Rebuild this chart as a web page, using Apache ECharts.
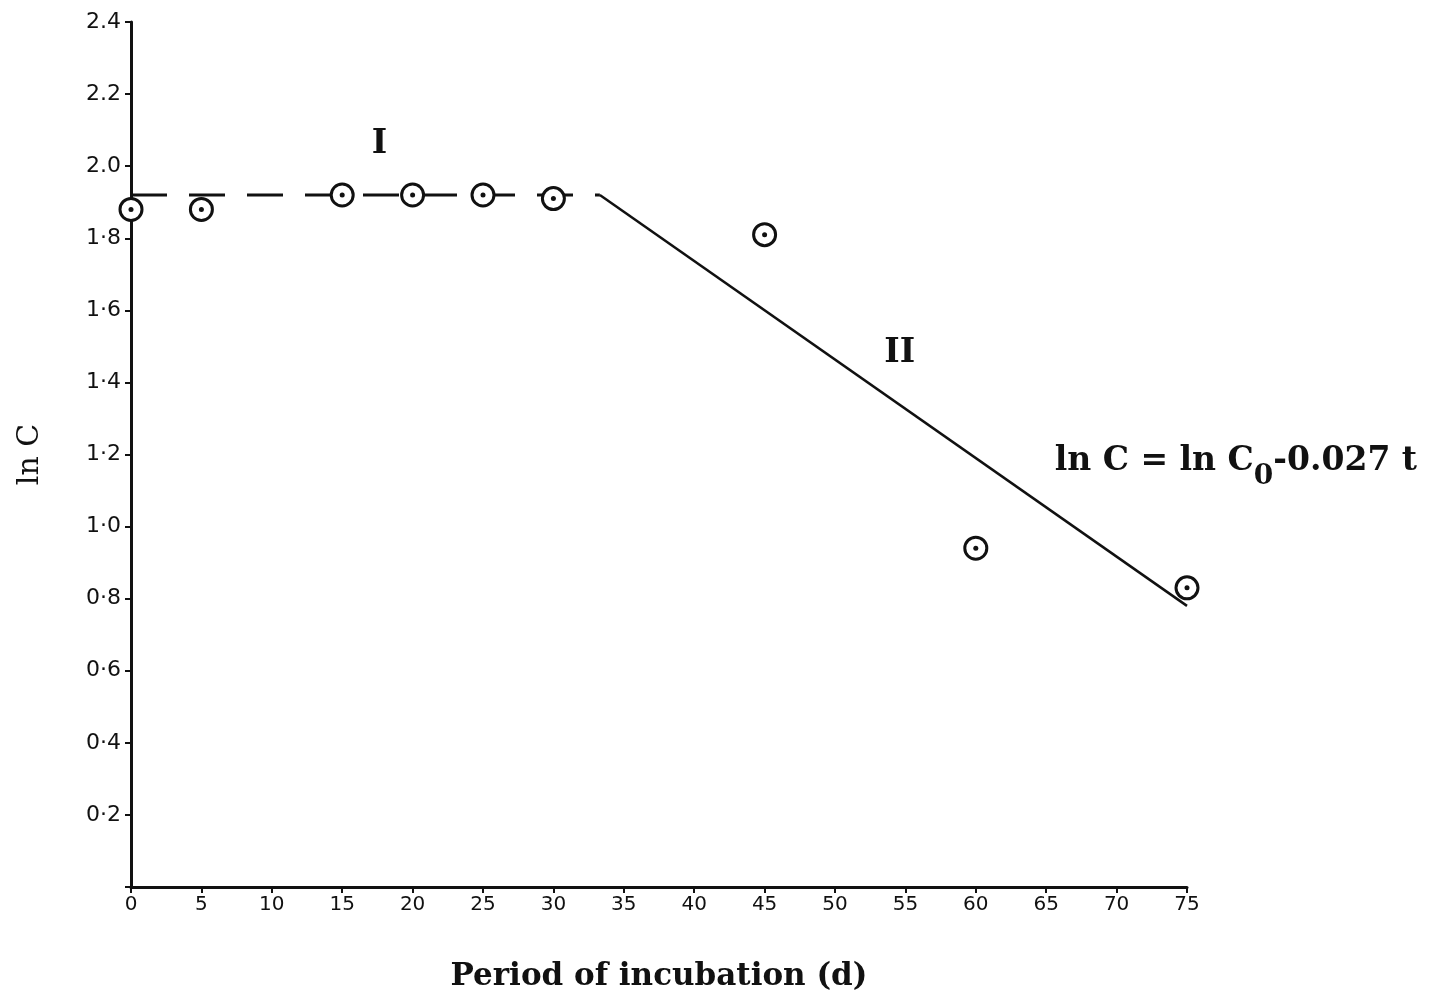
<!DOCTYPE html>
<html>
<head>
<meta charset="utf-8">
<script src="https://cdn.jsdelivr.net/npm/echarts@6/dist/echarts.min.js"></script>
<style>
  html, body { margin: 0; padding: 0; background: #fff; }
  #chart { width: 1444px; height: 1000px; }
</style>
</head>
<body>
<div id="chart"></div>
<script>
// measured points
const days = [0, 5, 15, 20, 25, 30, 45, 60, 75];
const lnC = [1.88, 1.88, 1.92, 1.92, 1.92, 1.91, 1.81, 0.94, 0.83];

// phase I (dashed) and phase II (fitted, solid)
const phase1X = [0, 33.3];
const phase1Y = [1.92, 1.92];
const phase2X = [33.3, 75];
const phase2Y = [1.92, 0.78];

// annotations
const noteText = ['I', 'II', 'ln C = ln C{sub|0}-0.027 t'];
const noteX = [17.1, 53.5, 65.6];
const noteY = [2.06, 1.48, 1.18];

const pairs = (xs, ys) => xs.map((x, i) => [x, ys[i]]);

const chart = echarts.init(document.getElementById('chart'));

const serif = 'DejaVu Serif';
const hand = 'DejaVu Sans';

const option = {
    backgroundColor: '#fff',
    animation: false,
    grid: { left: 131, right: 257, top: 22, bottom: 113 },
    xAxis: {
        type: 'value',
        min: 0,
        max: 75,
        interval: 5,
        name: 'Period of incubation (d)',
        nameLocation: 'middle',
        nameGap: 74,
        nameTextStyle: { fontFamily: serif, fontSize: 31, fontWeight: 'bold', color: '#111' },
        axisLine: { lineStyle: { color: '#111', width: 3 } },
        axisTick: { length: 6, lineStyle: { color: '#111', width: 2 } },
        axisLabel: { fontFamily: hand, fontSize: 20, color: '#111', margin: 8 },
        splitLine: { show: false }
    },
    yAxis: {
        type: 'value',
        min: 0,
        max: 2.4,
        interval: 0.2,
        name: 'ln C',
        nameLocation: 'middle',
        nameGap: 86,
        nameTextStyle: { fontFamily: serif, fontSize: 30, color: '#111' },
        axisLine: { lineStyle: { color: '#111', width: 3 } },
        axisTick: { length: 6, lineStyle: { color: '#111', width: 2 } },
        axisLabel: {
            fontFamily: hand, fontSize: 22, color: '#111', margin: 10,
            formatter: v => {
                if (v === 0) return '';
                const s = v.toFixed(1);
                return v >= 2 ? s : s.replace('.', '·');
            }
        },
        splitLine: { show: false }
    },
    series: [
        {
            name: 'Phase I',
            type: 'line',
            data: pairs(phase1X, phase1Y),
            symbol: 'none',
            lineStyle: { color: '#111', width: 3, type: [36, 22] },
            z: 2
        },
        {
            name: 'Phase II',
            type: 'line',
            data: pairs(phase2X, phase2Y),
            symbol: 'none',
            lineStyle: { color: '#111', width: 2.5 },
            z: 2
        },
        {
            name: 'ln C',
            type: 'scatter',
            data: pairs(days, lnC),
            symbol: 'circle',
            symbolSize: 22,
            itemStyle: { color: '#fff', borderColor: '#111', borderWidth: 3, opacity: 1 },
            z: 3
        },
        {
            name: 'centre',
            type: 'scatter',
            data: pairs(days, lnC),
            symbol: 'circle',
            symbolSize: 5,
            itemStyle: { color: '#111', opacity: 1 },
            silent: true,
            z: 4
        },
        {
            name: 'notes',
            type: 'scatter',
            data: noteText.map((t, i) => ({ value: [noteX[i], noteY[i]], text: t })),
            symbolSize: 0,
            silent: true,
            itemStyle: { opacity: 1 },
            label: {
                show: true,
                position: 'right',
                distance: 0,
                formatter: p => p.data.text,
                fontFamily: serif,
                fontSize: 33,
                fontWeight: 'bold',
                color: '#111',
                rich: {
                    sub: {
                        fontFamily: serif,
                        fontSize: 28,
                        fontWeight: 'bold',
                        color: '#111',
                        padding: [30, 0, 0, 0]
                    }
                }
            },
            z: 5
        }
    ]
};

chart.setOption(option);
</script>
</body>
</html>
